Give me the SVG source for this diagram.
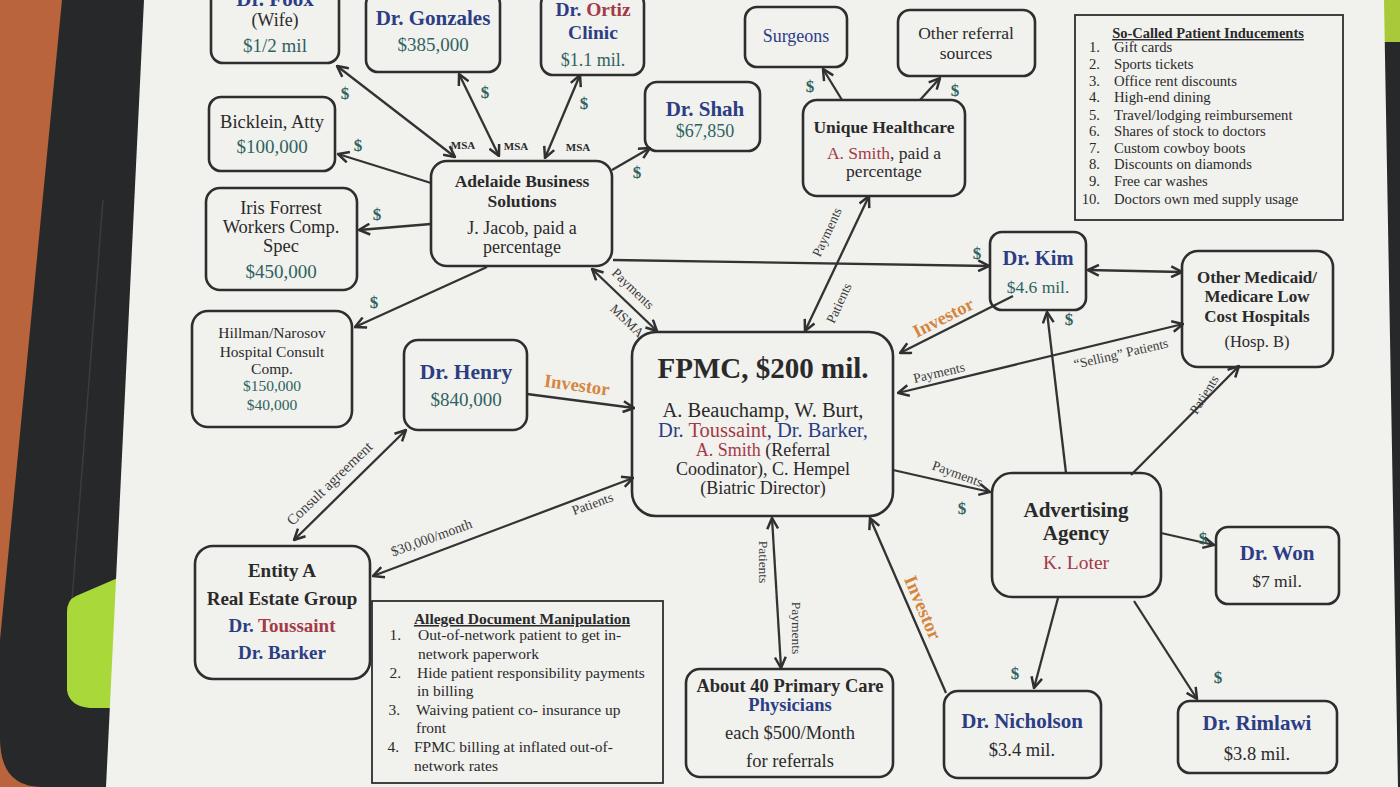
<svg xmlns="http://www.w3.org/2000/svg" width="1400" height="787" viewBox="0 0 1400 787">
<defs>
<marker id="ah" viewBox="0 0 12 12" refX="11" refY="6" markerWidth="13" markerHeight="13" orient="auto-start-reverse" markerUnits="userSpaceOnUse">
<path d="M1,1 L11,6 L1,11" fill="none" stroke="#303030" stroke-width="2.3" stroke-linejoin="miter"/>
</marker>
<style>
text{font-family:"Liberation Serif","DejaVu Serif",serif;fill:#2a2a2a}
.box{fill:none;stroke:#2e2e2e;stroke-width:2.6}
.sq{fill:none;stroke:#2e2e2e;stroke-width:1.8}
.c{text-anchor:middle}
.b{font-weight:bold}
.nv{fill:#2c3d84}
.tl{fill:#2f6360}
.rd{fill:#a53a46}
.or{fill:#d4863e;font-weight:bold}
.n{font-size:18px}
.t{font-size:21px;font-weight:bold}
.am{font-size:19px;fill:#2f6360}
.lbl{font-size:13.5px;fill:#3a3a3a}
.dl{font-size:17px;font-weight:bold;fill:#2f6360}
.ln{fill:none;stroke:#333;stroke-width:2.3}
.both{marker-start:url(#ah);marker-end:url(#ah)}
.end{marker-end:url(#ah)}
</style>
</defs>
<!-- photo background -->
<rect x="0" y="0" width="1400" height="787" fill="#b9643d"/>
<path d="M62,0 L150,0 L110,787 L42,787 Q0,787 0,738 L0,640 Z" fill="#262829"/>
<path d="M103,200 L72,600" stroke="#3a3c3e" stroke-width="1.5" fill="none"/>
<path d="M120,577 L76,596 Q67,600 67,612 L67,690 Q69,706 90,708 L114,708 Z" fill="#a9d83a"/>
<rect x="1370" y="0" width="30" height="787" fill="#262829"/>
<rect x="1378" y="0" width="22" height="42" fill="#a9c93a"/>
<path d="M144,0 L1384,0 L1398,787 L106,787 Z" fill="#f1f1ee"/>

<g id="connectors">
<line class="ln both" x1="337" y1="66" x2="455" y2="157"/>
<line class="ln both" x1="459" y1="74" x2="499" y2="156"/>
<line class="ln both" x1="580" y1="75" x2="545" y2="158"/>
<line class="ln end" x1="431" y1="183" x2="338" y2="154"/>
<line class="ln end" x1="431" y1="224" x2="359" y2="230"/>
<line class="ln end" x1="487" y1="267" x2="355" y2="327"/>
<line class="ln end" x1="612" y1="170" x2="650" y2="148"/>
<line class="ln end" x1="613" y1="260" x2="989" y2="266"/>
<line class="ln both" x1="592" y1="269" x2="657" y2="331"/>
<line class="ln both" x1="869" y1="196" x2="805" y2="331"/>
<line class="ln end" x1="842" y1="100" x2="823" y2="69"/>
<line class="ln end" x1="920" y1="100" x2="940" y2="78"/>
<line class="ln end" x1="1013" y1="296" x2="900" y2="353"/>
<line class="ln both" x1="1088" y1="270" x2="1182" y2="272"/>
<line class="ln both" x1="1183" y1="324" x2="898" y2="393"/>
<line class="ln end" x1="893" y1="470" x2="990" y2="492"/>
<line class="ln end" x1="1066" y1="473" x2="1047" y2="312"/>
<line class="ln end" x1="1131" y1="475" x2="1239" y2="366"/>
<line class="ln end" x1="1161" y1="533" x2="1214" y2="545"/>
<line class="ln end" x1="1058" y1="598" x2="1034" y2="688"/>
<line class="ln end" x1="1134" y1="601" x2="1197" y2="699"/>
<line class="ln end" x1="946" y1="693" x2="870" y2="518"/>
<line class="ln both" x1="772" y1="518" x2="781" y2="668"/>
<line class="ln end" x1="527" y1="394" x2="634" y2="408"/>
<line class="ln both" x1="294" y1="540" x2="406" y2="430"/>
<line class="ln both" x1="633" y1="478" x2="373" y2="576"/>

<text class="dl c" x="345" y="99">$</text>
<text class="dl c" x="485" y="98">$</text>
<text class="dl c" x="584" y="109">$</text>
<text class="dl c" x="358" y="151">$</text>
<text class="dl c" x="377" y="220">$</text>
<text class="dl c" x="374" y="308">$</text>
<text class="dl c" x="637" y="178">$</text>
<text class="dl c" x="977" y="259">$</text>
<text class="dl c" x="810" y="92">$</text>
<text class="dl c" x="955" y="96">$</text>
<text class="dl c" x="962" y="514">$</text>
<text class="dl c" x="1069" y="325">$</text>
<text class="dl c" x="1203" y="544">$</text>
<text class="dl c" x="1015" y="679">$</text>
<text class="dl c" x="1218" y="683">$</text>

<text class="c b" x="463" y="149" style="font-size:11px">MSA</text>
<text class="c b" x="516" y="150" style="font-size:11px">MSA</text>
<text class="c b" x="578" y="151" style="font-size:11px">MSA</text>

<text class="lbl c" transform="translate(630,292) rotate(44)">Payments</text>
<text class="lbl c" transform="translate(624,324) rotate(44)">MSMA</text>
<text class="lbl c" transform="translate(831,234) rotate(-65)">Payments</text>
<text class="lbl c" transform="translate(843,305) rotate(-65)">Patients</text>
<text class="or c" style="font-size:18.5px" transform="translate(946,323) rotate(-27)">Investor</text>
<text class="lbl c" transform="translate(940,377) rotate(-13)">Payments</text>
<text class="lbl c" transform="translate(1122,358) rotate(-13)">“Selling” Patients</text>
<text class="lbl c" transform="translate(956,478) rotate(20)">Payments</text>
<text class="lbl c" transform="translate(1208,397) rotate(-58)">Patients</text>
<text class="or c" style="font-size:19px" transform="translate(917,610) rotate(67)">Investor</text>
<text class="lbl c" transform="translate(759,562) rotate(90)">Patients</text>
<text class="lbl c" transform="translate(792,628) rotate(90)">Payments</text>
<text class="or c" style="font-size:18.5px" transform="translate(576,391) rotate(8)">Investor</text>
<text class="lbl c" style="font-size:15px" transform="translate(333,487) rotate(-44)">Consult agreement</text>
<text class="lbl c" transform="translate(594,508) rotate(-20)">Patients</text>
<text class="lbl c" style="font-size:14px" transform="translate(433,542) rotate(-20)">$30,000/month</text>
</g>

<g id="foox">
<rect class="box" x="211" y="-12" width="128" height="75" rx="12"/>
<text class="t c nv" x="275" y="6">Dr. Foox</text>
<text class="n c" x="275" y="26">(Wife)</text>
<text class="c am" x="275" y="52">$1/2 mil</text>
</g>
<g id="gonzales">
<rect class="box" x="366" y="-8" width="134" height="80" rx="12"/>
<text class="t c nv" x="433" y="25">Dr. Gonzales</text>
<text class="c am" x="433" y="51">$385,000</text>
</g>
<g id="ortiz">
<rect class="box" x="541" y="-8" width="103" height="83" rx="12"/>
<text class="c b nv" x="593" y="16" style="font-size:19.5px">Dr. <tspan class="rd">Ortiz</tspan></text>
<text class="c b nv" x="593" y="39" style="font-size:19.5px">Clinic</text>
<text class="c am" x="593" y="66" style="font-size:18px">$1.1 mil.</text>
</g>
<g id="shah">
<rect class="box" x="645" y="82" width="115" height="69" rx="12"/>
<text class="t c nv" x="705" y="116">Dr. Shah</text>
<text class="c am" x="705" y="137" style="font-size:18px">$67,850</text>
</g>
<g id="surgeons">
<rect class="box" x="745" y="7" width="102" height="60" rx="12"/>
<text class="n c nv" x="796" y="42">Surgeons</text>
</g>
<g id="other-referral">
<rect class="box" x="898" y="10" width="137" height="66" rx="12"/>
<text class="c" x="966" y="39" style="font-size:17.5px">Other referral</text>
<text class="c" x="966" y="59" style="font-size:17.5px">sources</text>
</g>
<g id="inducements">
<rect class="sq" x="1075" y="15" width="268" height="205"/>
<text class="c b" x="1208" y="38" style="font-size:14.5px;text-decoration:underline">So-Called Patient Inducements</text>
<g style="font-size:14.7px">
<text x="1100" y="52" text-anchor="end">1.</text><text x="1114" y="52">Gift cards</text>
<text x="1100" y="69" text-anchor="end">2.</text><text x="1114" y="69">Sports tickets</text>
<text x="1100" y="86" text-anchor="end">3.</text><text x="1114" y="86">Office rent discounts</text>
<text x="1100" y="102" text-anchor="end">4.</text><text x="1114" y="102">High-end dining</text>
<text x="1100" y="120" text-anchor="end">5.</text><text x="1114" y="120">Travel/lodging reimbursement</text>
<text x="1100" y="136" text-anchor="end">6.</text><text x="1114" y="136">Shares of stock to doctors</text>
<text x="1100" y="153" text-anchor="end">7.</text><text x="1114" y="153">Custom cowboy boots</text>
<text x="1100" y="169" text-anchor="end">8.</text><text x="1114" y="169">Discounts on diamonds</text>
<text x="1100" y="186" text-anchor="end">9.</text><text x="1114" y="186">Free car washes</text>
<text x="1100" y="204" text-anchor="end">10.</text><text x="1114" y="204">Doctors own med supply usage</text>
</g>
</g>
<g id="unique">
<rect class="box" x="803" y="100" width="162" height="96" rx="14"/>
<text class="c b" x="884" y="133" style="font-size:17.5px">Unique Healthcare</text>
<text class="c" x="884" y="159" style="font-size:17.5px"><tspan class="rd">A. Smith</tspan>, paid a</text>
<text class="c" x="884" y="177" style="font-size:17.5px">percentage</text>
</g>
<g id="bicklein">
<rect class="box" x="209" y="97" width="126" height="74" rx="12"/>
<text class="c" x="272" y="128" style="font-size:18.5px">Bicklein, Atty</text>
<text class="c am" x="272" y="153">$100,000</text>
</g>
<g id="adelaide">
<rect class="box" x="431" y="161" width="181" height="105" rx="16"/>
<text class="c b" x="522" y="187" style="font-size:17.5px">Adelaide Business</text>
<text class="c b" x="522" y="207" style="font-size:17.5px">Solutions</text>
<text class="c" x="522" y="234" style="font-size:18px">J. Jacob, paid a</text>
<text class="c" x="522" y="253" style="font-size:18px">percentage</text>
</g>
<g id="iris">
<rect class="box" x="206" y="188" width="151" height="102" rx="14"/>
<text class="c" x="281" y="214" style="font-size:18.5px">Iris Forrest</text>
<text class="c" x="281" y="233" style="font-size:18.5px">Workers Comp.</text>
<text class="c" x="281" y="252" style="font-size:18.5px">Spec</text>
<text class="c am" x="281" y="278">$450,000</text>
</g>
<g id="hillman">
<rect class="box" x="192" y="311" width="160" height="116" rx="16"/>
<g style="font-size:15.5px">
<text class="c" x="272" y="338">Hillman/Narosov</text>
<text class="c" x="272" y="357">Hospital Consult</text>
<text class="c" x="272" y="374">Comp.</text>
<text class="c tl" x="272" y="391">$150,000</text>
<text class="c tl" x="272" y="410">$40,000</text>
</g>
</g>
<g id="henry">
<rect class="box" x="404" y="340" width="123" height="90" rx="14"/>
<text class="c b nv" x="466" y="379" style="font-size:21.5px">Dr. Henry</text>
<text class="c am" x="466" y="406">$840,000</text>
</g>
<g id="fpmc">
<rect class="box" x="632" y="332" width="261" height="184" rx="24"/>
<text class="c b" x="763" y="378" style="font-size:29px">FPMC, $200 mil.</text>
<text class="c" x="763" y="417" style="font-size:20.5px">A. Beauchamp, W. Burt,</text>
<text class="c nv" x="763" y="437" style="font-size:20.5px">Dr. <tspan class="rd">Toussaint</tspan>, Dr. Barker,</text>
<text class="c" x="763" y="456" style="font-size:18px"><tspan class="rd">A. Smith</tspan> (Referral</text>
<text class="c" x="763" y="475" style="font-size:18px">Coodinator), C. Hempel</text>
<text class="c" x="763" y="494" style="font-size:18px">(Biatric Director)</text>
</g>
<g id="kim">
<rect class="box" x="990" y="232" width="96" height="78" rx="12"/>
<text class="c b nv" x="1038" y="265" style="font-size:20.5px">Dr. Kim</text>
<text class="c am" x="1038" y="293" style="font-size:17.5px">$4.6 mil.</text>
</g>
<g id="other-hospitals">
<rect class="box" x="1182" y="251" width="151" height="116" rx="16"/>
<text class="c b" x="1257" y="283" style="font-size:17px">Other Medicaid/</text>
<text class="c b" x="1257" y="302" style="font-size:17px">Medicare Low</text>
<text class="c b" x="1257" y="322" style="font-size:17px">Cost Hospitals</text>
<text class="c" x="1257" y="347" style="font-size:16.5px">(Hosp. B)</text>
</g>
<g id="advertising">
<rect class="box" x="992" y="473" width="169" height="124" rx="20"/>
<text class="t c" x="1076" y="517">Advertising</text>
<text class="t c" x="1076" y="540">Agency</text>
<text class="c rd" x="1076" y="569" style="font-size:19.5px">K. Loter</text>
</g>
<g id="won">
<rect class="box" x="1216" y="527" width="123" height="77" rx="12"/>
<text class="t c nv" x="1277" y="560">Dr. Won</text>
<text class="c" x="1277" y="587" style="font-size:17.5px">$7 mil.</text>
</g>
<g id="entity-a">
<rect class="box" x="195" y="546" width="175" height="133" rx="18"/>
<text class="c b" x="282" y="577" style="font-size:19px">Entity A</text>
<text class="c b" x="282" y="605" style="font-size:19px">Real Estate Group</text>
<text class="c b nv" x="282" y="632" style="font-size:19px">Dr. <tspan class="rd">Toussaint</tspan></text>
<text class="c b nv" x="282" y="659" style="font-size:19px">Dr. Barker</text>
</g>
<g id="alleged">
<rect class="sq" x="372" y="601" width="291" height="182"/>
<text class="c b" x="522" y="624" style="font-size:15.5px;text-decoration:underline">Alleged Document Manipulation</text>
<g style="font-size:15.5px">
<text x="401" y="640" text-anchor="end">1.</text><text x="418" y="640">Out-of-network patient to get in-</text>
<text x="418" y="659">network paperwork</text>
<text x="401" y="678" text-anchor="end">2.</text><text x="417" y="678">Hide patient responsibility payments</text>
<text x="417" y="696">in billing</text>
<text x="400" y="715" text-anchor="end">3.</text><text x="416" y="715">Waiving patient co- insurance up</text>
<text x="416" y="733">front</text>
<text x="399" y="752" text-anchor="end">4.</text><text x="414" y="752">FPMC billing at inflated out-of-</text>
<text x="414" y="771">network rates</text>
</g>
</g>
<g id="pcp">
<rect class="box" x="686" y="669" width="207" height="108" rx="14"/>
<text class="c b" x="790" y="692" style="font-size:18.5px">About 40 Primary Care</text>
<text class="c b nv" x="790" y="711" style="font-size:18.5px">Physicians</text>
<text class="c" x="790" y="739" style="font-size:18.5px">each $500/Month</text>
<text class="c" x="790" y="767" style="font-size:18.5px">for referrals</text>
</g>
<g id="nicholson">
<rect class="box" x="944" y="691" width="157" height="87" rx="14"/>
<text class="t c nv" x="1022" y="728">Dr. Nicholson</text>
<text class="c" x="1022" y="756" style="font-size:18.5px">$3.4 mil.</text>
</g>
<g id="rimlawi">
<rect class="box" x="1178" y="701" width="159" height="72" rx="12"/>
<text class="t c nv" x="1257" y="730">Dr. Rimlawi</text>
<text class="c" x="1257" y="760" style="font-size:18.5px">$3.8 mil.</text>
</g>
</svg>
